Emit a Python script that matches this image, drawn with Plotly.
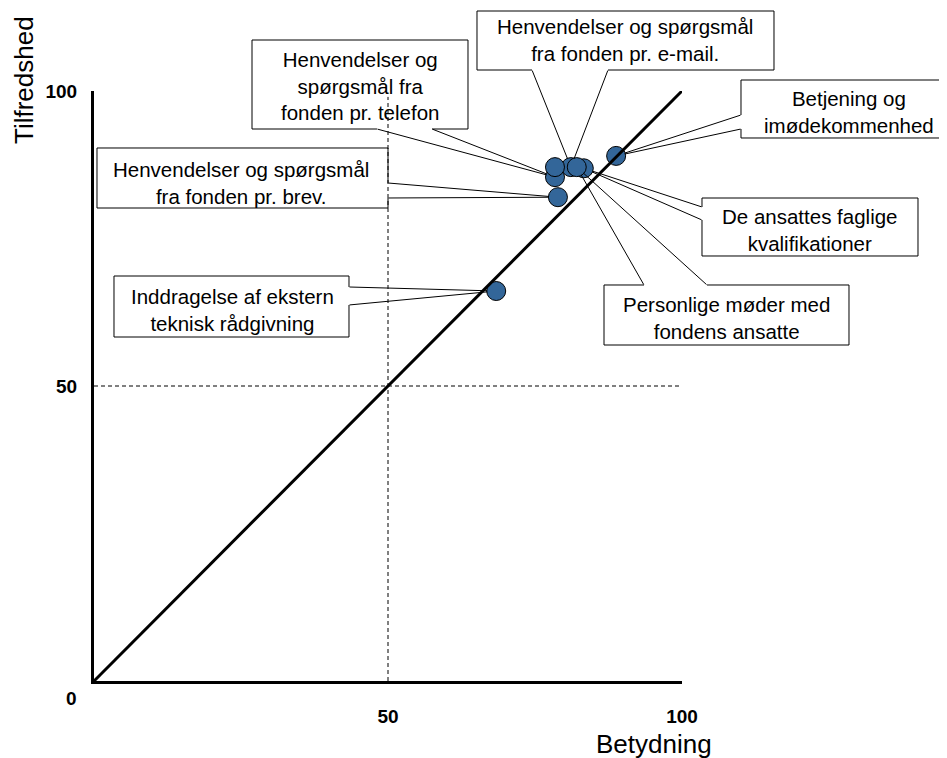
import plotly.graph_objects as go

# ---------------- data ----------------
item_names = [
    "Henvendelser og spørgsmål fra fonden pr. telefon",
    "Henvendelser og spørgsmål fra fonden pr. e-mail.",
    "Betjening og imødekommenhed",
    "Henvendelser og spørgsmål fra fonden pr. brev.",
    "De ansattes faglige kvalifikationer",
    "Personlige møder med fondens ansatte",
    "Inddragelse af ekstern teknisk rådgivning",
    "",
]
betydning = [78.4, 81.1, 88.8, 78.9, 83.3, 82.1, 68.4, 78.4]
tilfredshed = [85.4, 87.1, 89.0, 82.0, 86.9, 87.1, 66.1, 87.1]

# label text with line breaks, same order as items (last item has no callout)
callout_text = [
    "Henvendelser og<br>spørgsmål fra<br>fonden pr. telefon",
    "Henvendelser og spørgsmål<br>fra fonden pr. e-mail.",
    "Betjening og<br>imødekommenhed",
    "Henvendelser og spørgsmål<br>fra fonden pr. brev.",
    "De ansattes faglige<br>kvalifikationer",
    "Personlige møder med<br>fondens ansatte",
    "Inddragelse af ekstern<br>teknisk rådgivning",
]

x_tick_vals = [50, 100]
x_tick_text = ["50", "100"]
y_tick_vals = [50, 100]
y_tick_text = ["50", "100"]
ref_line_x = [0, 100]
ref_line_y = [0, 100]
mid_value = 50

# ---------------- layout geometry (screen pixels) ----------------
OFF = 8  # page body margin
W, H = 947 - OFF, 758 - OFF
L, R, T, B = 94, 682, 91, 681
PW, PH = R - L, B - T

def fx(px):
    return (px - L) / PW

def fy(py):
    return (B - py) / PH

# callout boxes in item order: (x0, y0, x1, y1), gap side, gap from a to b
boxes = [
    ((252, 40, 468, 129), "bottom", (377, 432)),
    ((477, 11, 774, 70), "bottom", (532, 608)),
    ((741, 80, 943, 138), "left", (115, 129)),
    ((97, 148, 388, 208), "right", (183, 198)),
    ((702, 198, 918, 256), "left", (207, 220)),
    ((604, 285, 849, 345), "top", (644, 707)),
    ((114, 276, 349, 337), "right", (287, 305)),
]
text_centers = [(360, 86), (625, 40), (849, 112), (241, 183), (810, 230), (726, 318), (232, 310)]

fig = go.Figure()

# dashed reference lines
fig.add_trace(go.Scatter(x=[mid_value, mid_value], y=[0, 99], mode="lines",
                         line=dict(color="black", width=1, dash="4px,3px"),
                         hoverinfo="skip", showlegend=False))
fig.add_trace(go.Scatter(x=[0, 100], y=[mid_value, mid_value], mode="lines",
                         line=dict(color="black", width=1, dash="4px,3px"),
                         hoverinfo="skip", showlegend=False))

# points
fig.add_trace(go.Scatter(x=betydning, y=tilfredshed, mode="markers",
                         marker=dict(size=19, color="#336699",
                                     line=dict(color="black", width=1)),
                         text=item_names, hoverinfo="text", showlegend=False,
                         cliponaxis=False))

# diagonal
fig.add_trace(go.Scatter(x=ref_line_x, y=ref_line_y, mode="lines",
                         line=dict(color="black", width=3),
                         hoverinfo="skip", showlegend=False))

FONT = "Liberation Sans, Arial, sans-serif"
shapes = []
annotations = []
for i, ((x0, y0, x1, y1), side, (a, b)) in enumerate(boxes):
    TL, TR, BR, BL = (x0, y0), (x1, y0), (x1, y1), (x0, y1)
    if side == "top":
        g1, g2 = (a, y0), (b, y0)
        pts = [g2, TR, BR, BL, TL, g1]
    elif side == "right":
        g1, g2 = (x1, a), (x1, b)
        pts = [g2, BR, BL, TL, TR, g1]
    elif side == "bottom":
        g1, g2 = (b, y1), (a, y1)
        pts = [g2, BL, TL, TR, BR, g1]
    else:
        g1, g2 = (x0, b), (x0, a)
        pts = [g2, TL, TR, BR, BL, g1]
    path = "M " + " L ".join(f"{fx(p[0]):.5f},{fy(p[1]):.5f}" for p in pts)
    shapes.append(dict(type="path", path=path, xref="paper", yref="paper",
                       line=dict(color="black", width=1), fillcolor="rgba(0,0,0,0)"))
    # wedge lines from the gap ends to the data point
    for g in (g1, g2):
        annotations.append(dict(
            x=betydning[i], y=tilfredshed[i], xref="x", yref="y",
            ax=fx(g[0]) * 100, ay=fy(g[1]) * 100, axref="x", ayref="y",
            text="", showarrow=True, arrowhead=0, arrowwidth=1, arrowcolor="black",
            standoff=9, font=dict(size=1), borderpad=0))
    cx, cy = text_centers[i]
    annotations.append(dict(
        x=fx(cx), y=fy(cy), xref="paper", yref="paper", text=callout_text[i],
        showarrow=False, xanchor="center", yanchor="middle", align="center",
        font=dict(family=FONT, size=20.5, color="black")))

# axis titles and the 0 label
annotations.append(dict(x=fx(654), y=fy(744), xref="paper", yref="paper", text="Betydning",
                        showarrow=False, xanchor="center", yanchor="middle",
                        font=dict(family=FONT, size=26, color="black")))
annotations.append(dict(x=fx(24), y=fy(80), xref="paper", yref="paper", text="Tilfredshed",
                        showarrow=False, xanchor="center", yanchor="middle", textangle=-90,
                        font=dict(family=FONT, size=26, color="black")))
annotations.append(dict(x=fx(71), y=fy(698), xref="paper", yref="paper", text="0",
                        showarrow=False, xanchor="center", yanchor="middle",
                        font=dict(family=FONT, size=19, color="black", weight="bold")))

fig.update_layout(
    width=W, height=H,
    margin=dict(l=L - OFF, r=W - (R - OFF), t=T - OFF, b=H - (B - OFF), pad=0),
    paper_bgcolor="white", plot_bgcolor="white",
    shapes=shapes, annotations=annotations,
    showlegend=False,
    xaxis=dict(range=[0, 100], showgrid=False, zeroline=False, showline=True,
               linecolor="black", linewidth=3, ticks="", tickvals=x_tick_vals,
               ticktext=x_tick_text, ticklabelstandoff=16,
               tickfont=dict(family=FONT, size=19, color="black", weight="bold")),
    yaxis=dict(range=[0, 100], showgrid=False, zeroline=False, showline=True,
               linecolor="black", linewidth=3, ticks="", tickvals=y_tick_vals,
               ticktext=y_tick_text, ticklabelstandoff=10,
               tickfont=dict(family=FONT, size=19, color="black", weight="bold")),
)

fig.write_html("out.html")
